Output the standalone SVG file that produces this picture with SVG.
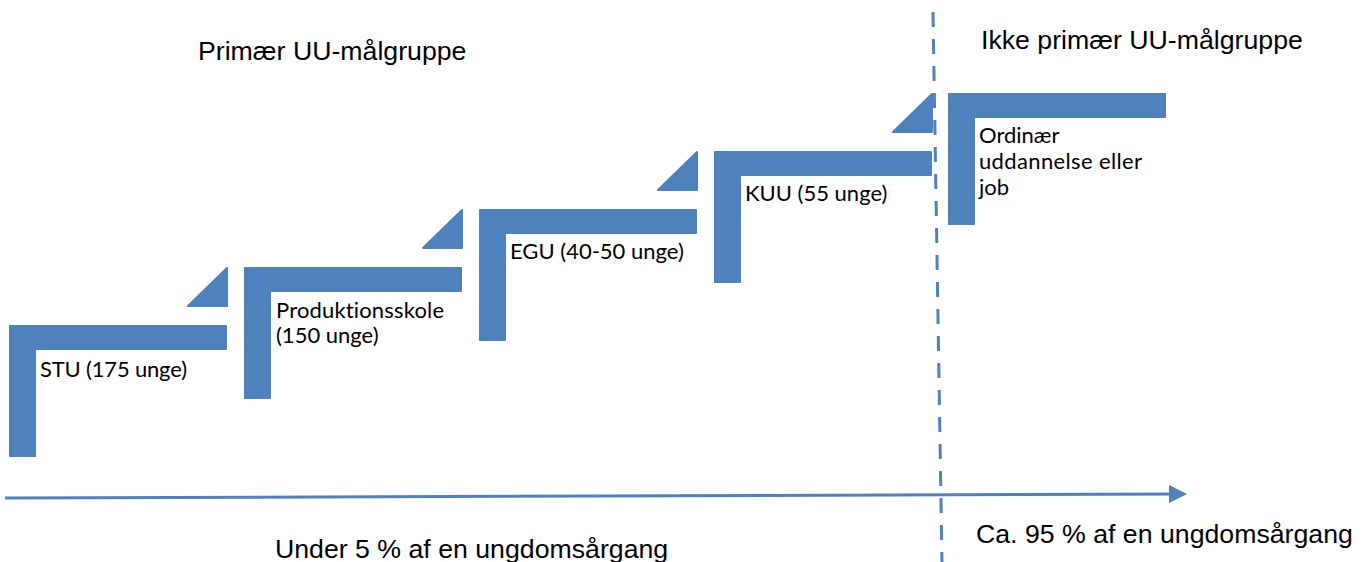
<svg xmlns="http://www.w3.org/2000/svg" width="1369" height="562" viewBox="0 0 1369 562">
<defs>
<style>
.step{fill:#4F81BD;stroke:#4F81BD;stroke-width:2;stroke-linejoin:round}
.lbl{font-family:Lato,"Open Sans",sans-serif;font-size:22px;fill:#000;font-variant-ligatures:none}
.big{font-family:"Liberation Sans",Arial,sans-serif;font-size:26.7px;fill:#000}
</style>
<path id="L" d="M1,1 H217 V24 H26 V131 H1 Z"/>
<marker id="ah" markerWidth="6" markerHeight="6" refX="5" refY="3" orient="auto" markerUnits="strokeWidth"><path d="M0,0 L6,3 L0,6 Z" fill="#4F81BD"/></marker>
</defs>
<rect width="1369" height="562" fill="#fff"/>
<text class="big" x="198" y="60">Primær UU-målgruppe</text>
<text class="big" x="981" y="49">Ikke primær UU-målgruppe</text>
<text class="big" x="275" y="558">Under 5 % af en ungdomsårgang</text>
<text class="big" x="976" y="543">Ca. 95 % af en ungdomsårgang</text>
<g id="connectors">
<line x1="5" y1="498" x2="1184" y2="494" stroke="#4F81BD" stroke-width="3" marker-end="url(#ah)"/>
<line x1="933" y1="12" x2="942" y2="562" stroke="#4F81BD" stroke-width="3" stroke-dasharray="15 12"/>
</g>
<g id="stu" transform="translate(9,325)">
<use href="#L" class="step"/>
<polygon class="step" points="218,-57 218,-19 179,-19"/>
<text class="lbl" x="31" y="52" textLength="147">STU (175 unge)</text>
</g>
<g id="produktionsskole" transform="translate(244,267)">
<use href="#L" class="step"/>
<polygon class="step" points="218,-57 218,-19 179,-19"/>
<text class="lbl" x="32" y="51" textLength="168">Produktionsskole</text>
<text class="lbl" x="32" y="76">(150 unge)</text>
</g>
<g id="egu" transform="translate(479,209)">
<use href="#L" class="step"/>
<polygon class="step" points="218,-57 218,-19 179,-19"/>
<text class="lbl" x="31" y="50">EGU (40-50 unge)</text>
</g>
<g id="kuu" transform="translate(714,151)">
<use href="#L" class="step"/>
<polygon class="step" points="218,-57 218,-19 179,-19"/>
<text class="lbl" x="31" y="50">KUU (55 unge)</text>
</g>
<g id="ordinaer" transform="translate(948,93)">
<use href="#L" class="step"/>
<text class="lbl" x="31" y="50">Ordinær</text>
<text class="lbl" x="31" y="76" textLength="163">uddannelse eller</text>
<text class="lbl" x="31" y="102">job</text>
</g>
</svg>
